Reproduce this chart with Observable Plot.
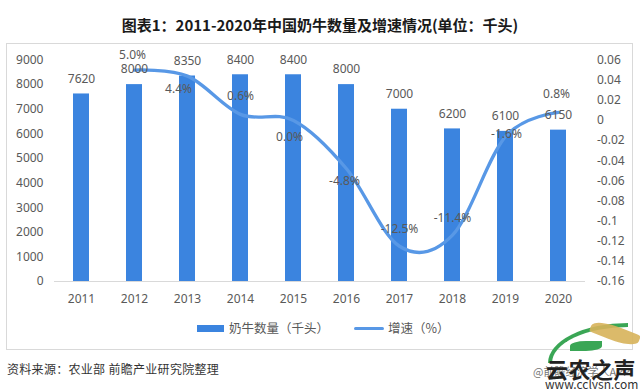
<!DOCTYPE html>
<html>
<head>
<meta charset="utf-8">
<script src="https://cdn.jsdelivr.net/npm/d3@7"></script>
<script src="https://cdn.jsdelivr.net/npm/@observablehq/plot@0.6"></script>
<style>
  html, body { margin: 0; padding: 0; background: #fff; }
  body { width: 640px; height: 389px; position: relative; overflow: hidden; font-family: "Noto Sans CJK SC", "Noto Sans", sans-serif; }
  .abs { position: absolute; white-space: nowrap; }
</style>
</head>
<body>
<div class="abs" id="title" style="left:0;top:14px;width:640px;text-align:center;font-weight:bold;font-size:15px;line-height:22px;color:#1a1a1a;"></div>
<div class="abs" style="left:6px;top:43px;width:625px;height:305px;border:1px solid #d9d9d9;"></div>
<div class="abs" id="chart" style="left:0;top:42px;"></div>
<div class="abs" id="legend" style="left:0;top:319px;height:18px;width:640px;"></div>
<div class="abs" id="footer" style="left:7px;top:360px;font-size:12px;line-height:18px;color:#333;letter-spacing:0.3px;"></div>
<div class="abs" id="wm" style="left:520px;top:318px;width:120px;height:71px;overflow:hidden;"></div>
<script>
// ---- data ----
const years = ["2011", "2012", "2013", "2014", "2015", "2016", "2017", "2018", "2019", "2020"];
const cattle = [7620, 8000, 8350, 8400, 8400, 8000, 7000, 6200, 6100, 6150];
const growthYears = ["2012", "2013", "2014", "2015", "2016", "2017", "2018", "2019", "2020"];
const growth = [0.05, 0.044, 0.006, 0.0, -0.048, -0.125, -0.114, -0.016, 0.008];
const growthLabels = ["5.0%", "4.4%", "0.6%", "0.0%", "-4.8%", "-12.5%", "-11.4%", "-1.6%", "0.8%"];
const leftTicks = [0, 1000, 2000, 3000, 4000, 5000, 6000, 7000, 8000, 9000];
const rightTicks = [-0.16, -0.14, -0.12, -0.1, -0.08, -0.06, -0.04, -0.02, 0, 0.02, 0.04, 0.06];
const rightTickLabels = ["-0.16", "-0.14", "-0.12", "-0.1", "-0.08", "-0.06", "-0.04", "-0.02", "0", "0.02", "0.04", "0.06"];
const titleText = "图表1：2011-2020年中国奶牛数量及增速情况(单位：千头)";
const seriesNames = ["奶牛数量（千头）", "增速（%）"];
const sourceText = "资料来源：农业部 前瞻产业研究院整理";

// ---- styling (label placement offsets in px, not data) ----
const labelOffsets = [[-2, -15], [-9, 13], [0, -18], [-4, 17], [-2, 12], [0, -17], [0, -17], [1, -2], [-2, -18]];
const barColor = "#3b84df";
const lineColor = "#5898e6";
const textColor = "#595959";

// secondary axis mapping onto primary domain
const leftMax = 9000, rMin = -0.16, rMax = 0.06;
const toY = g => (g - rMin) / (rMax - rMin) * leftMax;

const barData = years.map((y, i) => ({year: y, value: cattle[i]}));
const lineData = growthYears.map((y, i) => ({year: y, g: growth[i], label: growthLabels[i]}));
const rightMap = new Map(rightTicks.map((t, i) => [toY(t), rightTickLabels[i]]));

const growthLabelMarks = lineData.map((d, i) =>
  Plot.text([d], {x: "year", y: r => toY(r.g), text: "label", dx: labelOffsets[i][0], dy: labelOffsets[i][1], fill: textColor, fontSize: 12})
);

const chart = Plot.plot({
  width: 640,
  height: 308,
  marginLeft: 54,
  marginRight: 55,
  marginTop: 17.5,
  marginBottom: 69,
  style: {fontFamily: "'Noto Sans', 'Noto Sans CJK SC', sans-serif", fontSize: "12px", color: textColor, background: "transparent"},
  x: {type: "band", domain: years, paddingInner: 0.7, paddingOuter: 0.35, label: null},
  y: {domain: [0, leftMax], label: null},
  marks: [
    Plot.barY(barData, {x: "year", y: "value", fill: barColor}),
    Plot.ruleY([0], {stroke: "#d9d9d9", strokeWidth: 1}),
    Plot.axisX({tickSize: 0, tickPadding: 13, label: null, fontSize: 12}),
    Plot.axisY(leftTicks, {anchor: "left", tickSize: 0, tickPadding: 11, label: null, fontSize: 12, tickFormat: d => String(d)}),
    Plot.axisY(rightTicks.map(toY), {anchor: "right", tickSize: 0, tickPadding: 11.5, label: null, fontSize: 12, tickFormat: d => rightMap.get(d)}),
    Plot.line(lineData, {x: "year", y: d => toY(d.g), stroke: lineColor, strokeWidth: 3.3, curve: "cardinal", strokeLinecap: "round"}),
    Plot.text(barData, {x: "year", y: "value", text: d => String(d.value), dy: -15, fill: textColor, fontSize: 12}),
    ...growthLabelMarks
  ]
});
document.getElementById("chart").appendChild(chart);

document.getElementById("title").textContent = titleText;
document.getElementById("footer").textContent = sourceText;

// legend
const legend = document.getElementById("legend");
legend.innerHTML =
  `<div class="abs" style="left:197px;top:5.5px;width:27px;height:7px;background:${barColor}"></div>` +
  `<div class="abs" style="left:229px;top:0;font-size:12.5px;line-height:18px;color:${textColor}">${seriesNames[0]}</div>` +
  `<div class="abs" style="left:354px;top:7.5px;width:30px;height:3px;border-radius:1.5px;background:${lineColor}"></div>` +
  `<div class="abs" style="left:388px;top:0;font-size:12.5px;line-height:18px;color:${textColor}">${seriesNames[1]}</div>`;

// watermark logo (decorative)
document.getElementById("wm").innerHTML =
  `<div class="abs" style="left:28px;top:5px;width:80px;height:40px;border-top:4px solid #3aa655;border-left:4px solid #3aa655;border-top-left-radius:80px 40px;box-sizing:border-box;"></div>` +
  `<div class="abs" style="left:70px;top:8px;width:50px;height:15px;background:#d7b25a;border-radius:60% 10% 60% 10%;transform:rotate(22deg);opacity:0.9"></div>` +
  `<div class="abs" style="left:50px;top:23px;width:32px;height:10px;background:#3aa655;border-radius:50% 0 50% 0;"></div>` +
  `<div class="abs" style="left:13px;top:46px;font-size:11px;line-height:14px;color:#777;">@前瞻经济学人APP</div>` +
  `<div class="abs" style="left:26px;top:37px;font-size:22px;font-weight:bold;line-height:26px;color:#222;letter-spacing:0.5px;">云农之声</div>` +
  `<div class="abs" style="left:25px;top:59px;font-size:12px;line-height:14px;color:#333;">www.cclysn.com</div>`;
</script>
</body>
</html>
